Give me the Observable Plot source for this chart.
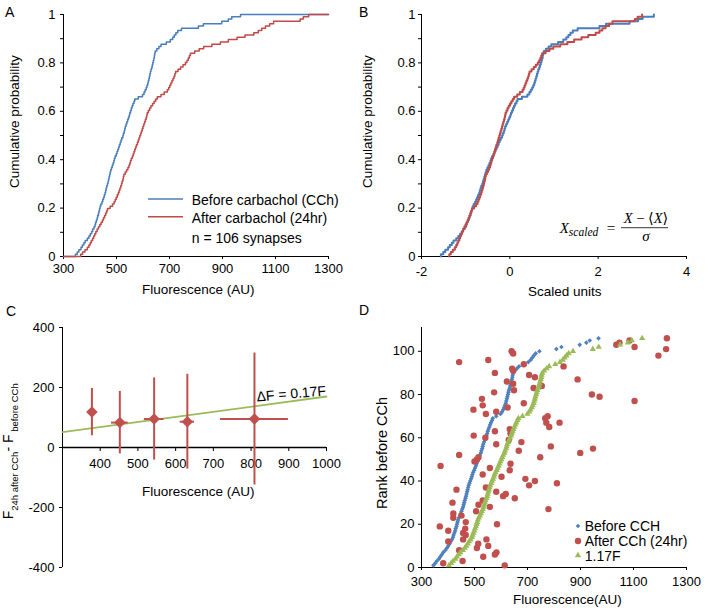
<!DOCTYPE html>
<html>
<head>
<meta charset="utf-8">
<script src="https://cdn.jsdelivr.net/npm/d3@7"></script>
<script src="https://cdn.jsdelivr.net/npm/@observablehq/plot@0.6"></script>
<style>
  html, body { margin: 0; padding: 0; background: #fff; }
  #fig { position: relative; width: 706px; height: 612px; overflow: hidden; background: #fff; }
</style>
</head>
<body>
<div id="fig"></div>
<script>
// ================= DATA =================
// Fluorescence of the 106 synapses before carbachol, sorted (rank 1..106)
const beforeF = [345,352,358,366,371,377,382,390,396,401,
  406,410,415,419,421,424,427,429,432,434,
  436,438,441,445,448,451,454,457,459,461,
  463,466,468,470,472,474,476,478,481,484,
  487,490,492,495,499,502,505,508,511,514,
  517,520,524,526,529,531,533,536,539,542,
  545,548,550,553,556,559,562,566,569,582,
  598,604,608,612,615,618,620,622,624,626,
  628,630,633,635,637,639,641,643,644,646,
  652,660,668,688,703,712,718,724,731,745,
  809,828,897,922,935,968];
// Fluorescence 24 h after carbachol, sorted (panel A red curve)
const afterSorted = [365,372,381,390,396,401,405,410,414,418,
  422,427,432,437,442,447,451,455,459,463,
  466,476,485,491,495,499,503,507,510,513,
  516,519,521,524,526,528,533,538,543,547,
  550,553,556,560,563,566,569,572,575,579,
  582,585,588,591,594,597,600,603,606,609,
  612,614,616,620,625,630,636,642,648,654,
  668,680,692,697,701,705,709,713,717,720,
  723,732,742,751,760,766,771,775,779,795,
  812,829,860,892,922,955,985,1018,1035,1048,
  1062,1078,1093,1193,1205,1225];
// Panel D red points: [fluorescence after CCh, rank before CCh]
const afterVsRank = [[372,47],[442,95],[552,96],[640,100],[646,99],[577,90],[642,92],[646,91],[686,94],[706,89],
  [728,88],[622,86],[646,85],[649,82],[723,83],[574,81],[528,78],[531,75],[496,73],[543,71],
  [582,72],[625,74],[686,76],[577,63],[633,64],[636,62],[497,61],[541,60],[582,57],[629,59],
  [677,58],[667,54],[442,52],[500,49],[509,50],[515,51],[558,46],[531,43],[636,48],[602,42],
  [633,45],[692,41],[728,40],[706,38],[811,39],[432,36],[543,37],[582,35],[608,33],[618,34],
  [652,32],[531,31],[417,30],[515,29],[558,28],[779,27],[506,26],[420,25],[420,23],[451,24],
  [467,21],[585,20],[369,19],[465,18],[401,17],[457,16],[467,15],[457,13],[545,13],[401,12],
  [514,11],[552,10],[509,9],[442,8],[583,7],[577,6],[533,5],[455,3],[382,2],[614,1],
  [754,84],[836,93],[889,87],[943,80],[972,79],[1104,77],[767,69],[776,70],[771,67],[782,65],
  [821,67],[788,56],[748,51],[899,53],[947,55],[1035,103],[1047,104],[1085,105],[1104,102],[1194,98],
  [1223,101],[1226,106]];
const greenFactor = 1.17;           // "1.17F" series of panel D
// Panel C: binned change in fluorescence
const cBinF   = [378, 452, 543, 631, 809];
const cMeanDF = [118, 83, 95, 86, 95];
const cSdDF   = [79, 104, 137, 158, 220];
const cSdF    = [8, 22, 26, 19, 90];
const fitSlope = 0.17;              // ΔF = 0.17F
const fitF = [300, 1000];
// Ticks
const probTicks = [0,0.1,0.2,0.3,0.4,0.5,0.6,0.7,0.8,0.9,1];
const aXTicks = [300,500,700,900,1100,1300];
const bXTicks = [-2,0,2,4];
const cXTicks = [400,500,600,700,800,900,1000];
const cYTicks = [-400,-200,0,200,400];
const dXTicks = [300,500,700,900,1100,1300];
const dYTicks = [0,20,40,60,80,100];

// ================= STYLE =================
const FONT = "'Liberation Sans', Arial, Helvetica, sans-serif";
const SERIF = "'Liberation Serif', 'DejaVu Serif', serif";
const BLUE = "#4a7ebb", RED = "#be4b48", GREEN = "#9bbb59";
const MBLUE = "#4f81bd", MRED = "#c0504d";
const W = 353, H = 306;
const TICK_FS = 13;
const baseStyle = {fontFamily: FONT, fontSize: TICK_FS + "px", color: "#000", background: "transparent", overflow: "visible"};
const probFmt = d => (Math.round(d * 10) % 2 === 0 ? String(+d.toFixed(1)) : "");
const num = d => String(d);

const fig = document.getElementById("fig");
function place(node, left, top) {
  node.style.position = "absolute";
  node.style.left = left + "px";
  node.style.top = top + "px";
  fig.appendChild(node);
}
function cdfRows(values, x0, x1) {
  const s = values.slice().sort((a, b) => a - b), n = s.length;
  const rows = [];
  if (x0 != null) rows.push({x: x0, p: 0});
  rows.push({x: s[0], p: 0});
  s.forEach((v, i) => rows.push({x: v, p: (i + 1) / n}));
  if (x1 != null) rows.push({x: x1, p: 1});
  return rows;
}
function scaled(values) {
  const m = d3.mean(values), sd = d3.deviation(values);
  return values.map(v => (v - m) / sd);
}

// ================= PANEL A =================
const plotA = Plot.plot({
  width: W, height: H, marginLeft: 63, marginRight: 25, marginTop: 14, marginBottom: 50,
  x: {domain: [300, 1300], label: null},
  y: {domain: [0, 1], label: null},
  style: baseStyle,
  marks: [
    Plot.axisY({ticks: probTicks, tickSize: 3, tickPadding: 5, tickFormat: probFmt, label: null, fontSize: TICK_FS}),
    Plot.axisX({ticks: aXTicks, tickSize: 3, tickPadding: 4.5, tickFormat: num, label: null, fontSize: TICK_FS}),
    Plot.ruleX([300], {stroke: "#000"}),
    Plot.ruleY([0], {stroke: "#000"}),
    Plot.line(cdfRows(beforeF, 300, 1300), {x: "x", y: "p", curve: "step-after", stroke: BLUE, strokeWidth: 1.5}),
    Plot.line(cdfRows(afterSorted, 300, 1300), {x: "x", y: "p", curve: "step-after", stroke: RED, strokeWidth: 1.5})
  ]
});
place(plotA, 0, 0);

// ================= PANEL B =================
const plotB = Plot.plot({
  width: W, height: H, marginLeft: 68, marginRight: 20, marginTop: 14, marginBottom: 50,
  x: {domain: [-2, 4], label: null},
  y: {domain: [0, 1], label: null},
  style: baseStyle,
  marks: [
    Plot.axisY({ticks: probTicks, tickSize: 3, tickPadding: 3, tickFormat: probFmt, label: null, fontSize: TICK_FS}),
    Plot.axisX({ticks: bXTicks, tickSize: 3, tickPadding: 7, tickFormat: num, label: null, fontSize: TICK_FS}),
    Plot.ruleX([-2], {stroke: "#000"}),
    Plot.ruleY([0], {stroke: "#000"}),
    Plot.line(cdfRows(scaled(beforeF)), {x: "x", y: "p", curve: "step-after", stroke: BLUE, strokeWidth: 2}),
    Plot.line(cdfRows(scaled(afterSorted)), {x: "x", y: "p", curve: "step-after", stroke: RED, strokeWidth: 2})
  ]
});
place(plotB, 353, 0);

// ================= PANEL C =================
const cRows = cBinF.map((f, i) => ({f, df: cMeanDF[i], sdDf: cSdDF[i], sdF: cSdF[i]}));
const cMT = 21, cMB = 45;
const cZeroOffset = (H - cMT - cMB) / 2; // pixels between y = -400 and y = 0
const plotC = Plot.plot({
  width: W, height: H, marginLeft: 62, marginRight: 27, marginTop: cMT, marginBottom: cMB,
  x: {domain: [300, 1000], label: null},
  y: {domain: [-400, 400], label: null},
  style: baseStyle,
  marks: [
    Plot.axisY({ticks: cYTicks, tickSize: 3, tickPadding: 5, tickFormat: num, label: null, fontSize: TICK_FS}),
    Plot.axisX({ticks: cXTicks, tickSize: 4, tickPadding: 7, tickFormat: num, label: null, dy: -cZeroOffset, fontSize: TICK_FS}),
    Plot.ruleX([300], {stroke: "#000"}),
    Plot.ruleY([0], {stroke: "#000", strokeWidth: 1.3}),
    Plot.line(fitF.map(f => ({f, df: fitSlope * f})), {x: "f", y: "df", stroke: GREEN, strokeWidth: 1.8}),
    Plot.ruleX(cRows, {x: "f", y1: d => d.df - d.sdDf, y2: d => d.df + d.sdDf, stroke: MRED, strokeWidth: 2}),
    Plot.ruleY(cRows, {y: "df", x1: d => d.f - d.sdF, x2: d => d.f + d.sdF, stroke: MRED, strokeWidth: 2}),
    Plot.dot(cRows, {x: "f", y: "df", symbol: "diamond2", r: 5.2, fill: MRED, stroke: "none"}),
    Plot.text(["ΔF = 0.17F"], {frameAnchor: "top-right", text: d => d, textAnchor: "end", dx: -1, dy: 58, rotate: -5, fontSize: 14})
  ]
});
place(plotC, 0, 306);

// ================= PANEL D =================
const rankRows = beforeF.map((v, i) => ({rank: i + 1, before: v, scaledF: v * greenFactor}));
const redRows = afterVsRank.map(([f, rank]) => ({f, rank}));
const plotD = Plot.plot({
  width: W, height: H, marginLeft: 68, marginRight: 20, marginTop: 21, marginBottom: 45,
  x: {domain: [300, 1300], label: null},
  y: {domain: [0, 111], label: null},
  style: baseStyle,
  marks: [
    Plot.axisY({ticks: dYTicks, tickSize: 3, tickPadding: 4, tickFormat: num, label: null, fontSize: TICK_FS}),
    Plot.axisX({ticks: dXTicks, tickSize: 3, tickPadding: 6, tickFormat: num, label: null, fontSize: TICK_FS}),
    Plot.ruleX([300], {stroke: "#000"}),
    Plot.ruleY([0], {stroke: "#000"}),
    Plot.dot(rankRows, {x: "before", y: "rank", symbol: "diamond2", r: 2.1, fill: MBLUE, stroke: "none"}),
    Plot.dot(redRows, {x: "f", y: "rank", symbol: "circle", r: 3.2, fill: MRED, stroke: "none"}),
    Plot.dot(rankRows, {x: "scaledF", y: "rank", symbol: "triangle", r: 2.3, fill: GREEN, stroke: "none"})
  ]
});
place(plotD, 353, 306);

// ================= TEXT OVERLAY (titles, legends, panel letters) =================
const ov = d3.select(fig).append("svg")
  .attr("width", 706).attr("height", 612)
  .style("position", "absolute").style("left", "0px").style("top", "0px")
  .style("overflow", "visible")
  .attr("font-family", FONT).attr("fill", "#000");
function txt(x, y, s, {size = 13.5, anchor = "start", rotate = 0, family = FONT, italic = false} = {}) {
  const t = ov.append("text")
    .attr("transform", `translate(${x},${y})` + (rotate ? ` rotate(${rotate})` : ""))
    .attr("text-anchor", anchor).attr("font-size", size).attr("font-family", family)
    .text(s);
  if (italic) t.attr("font-style", "italic");
  return t;
}
// panel letters
txt(5, 17, "A", {size: 14});
txt(359, 17, "B", {size: 14});
txt(6, 316, "C", {size: 14});
txt(359, 315, "D", {size: 14});
// Panel A titles & legend
txt(18.5, 188, "Cumulative probability", {rotate: -90});
txt(142, 293.5, "Fluorescence (AU)");
ov.append("line").attr("x1", 148).attr("x2", 183).attr("y1", 199).attr("y2", 199).attr("stroke", BLUE).attr("stroke-width", 1.5);
ov.append("line").attr("x1", 148).attr("x2", 183).attr("y1", 216.7).attr("y2", 216.7).attr("stroke", RED).attr("stroke-width", 1.5);
txt(191.7, 204.5, "Before carbachol (CCh)", {size: 14});
txt(191.7, 222.5, "After carbachol (24hr)", {size: 14});
txt(191.7, 243, "n = 106 synapses", {size: 14});
// Panel B titles & formula
txt(372, 188, "Cumulative probability", {rotate: -90});
txt(528, 296, "Scaled units");
{
  const t = ov.append("text").attr("x", 559.7).attr("y", 233).attr("font-family", SERIF).attr("font-style", "italic");
  t.append("tspan").attr("font-size", 15).text("X");
  t.append("tspan").attr("font-size", 11.5).attr("dy", 2.5).text("scaled");
  txt(611, 232.5, "=", {size: 15, anchor: "middle", family: SERIF});
  const n = ov.append("text").attr("x", 646).attr("y", 222.5).attr("text-anchor", "middle").attr("font-family", SERIF).attr("font-size", 14.5);
  n.append("tspan").attr("font-style", "italic").text("X");
  n.append("tspan").text(" − ⟨");
  n.append("tspan").attr("font-style", "italic").text("X");
  n.append("tspan").text("⟩");
  ov.append("line").attr("x1", 621).attr("x2", 668).attr("y1", 227.7).attr("y2", 227.7).attr("stroke", "#000").attr("stroke-width", 0.8);
  txt(646, 240.5, "σ", {size: 15, anchor: "middle", family: SERIF, italic: true});
}
// Panel C titles
txt(142, 496, "Fluorescence (AU)");
{
  const t = ov.append("text").attr("transform", "translate(12.5,519.3) rotate(-90)").attr("font-family", FONT);
  t.append("tspan").attr("font-size", 14).text("F");
  t.append("tspan").attr("font-size", 9.5).attr("dy", 5).text("24h after CCh");
  t.append("tspan").attr("font-size", 14).attr("dy", -5).text("- F");
  t.append("tspan").attr("font-size", 9.5).attr("dy", 5).text(" before CCh");
}
// Panel D titles & legend
txt(387, 453, "Rank before CCh", {rotate: -90, anchor: "middle", size: 14.5});
txt(513, 604, "Fluorescence(AU)");
{
  const sym = (type, size) => d3.symbol(type, size)();
  ov.append("path").attr("d", sym(d3.symbolDiamond2, 14)).attr("transform", "translate(578,526)").attr("fill", MBLUE);
  ov.append("circle").attr("cx", 578).attr("cy", 541).attr("r", 3.2).attr("fill", MRED);
  ov.append("path").attr("d", sym(d3.symbolTriangle, 18)).attr("transform", "translate(578,555.5)").attr("fill", GREEN);
  txt(584.7, 531, "Before CCH", {size: 14});
  txt(584.7, 545.5, "After CCh (24hr)", {size: 14});
  txt(584.7, 560.5, "1.17F", {size: 14});
}
</script>
</body>
</html>
